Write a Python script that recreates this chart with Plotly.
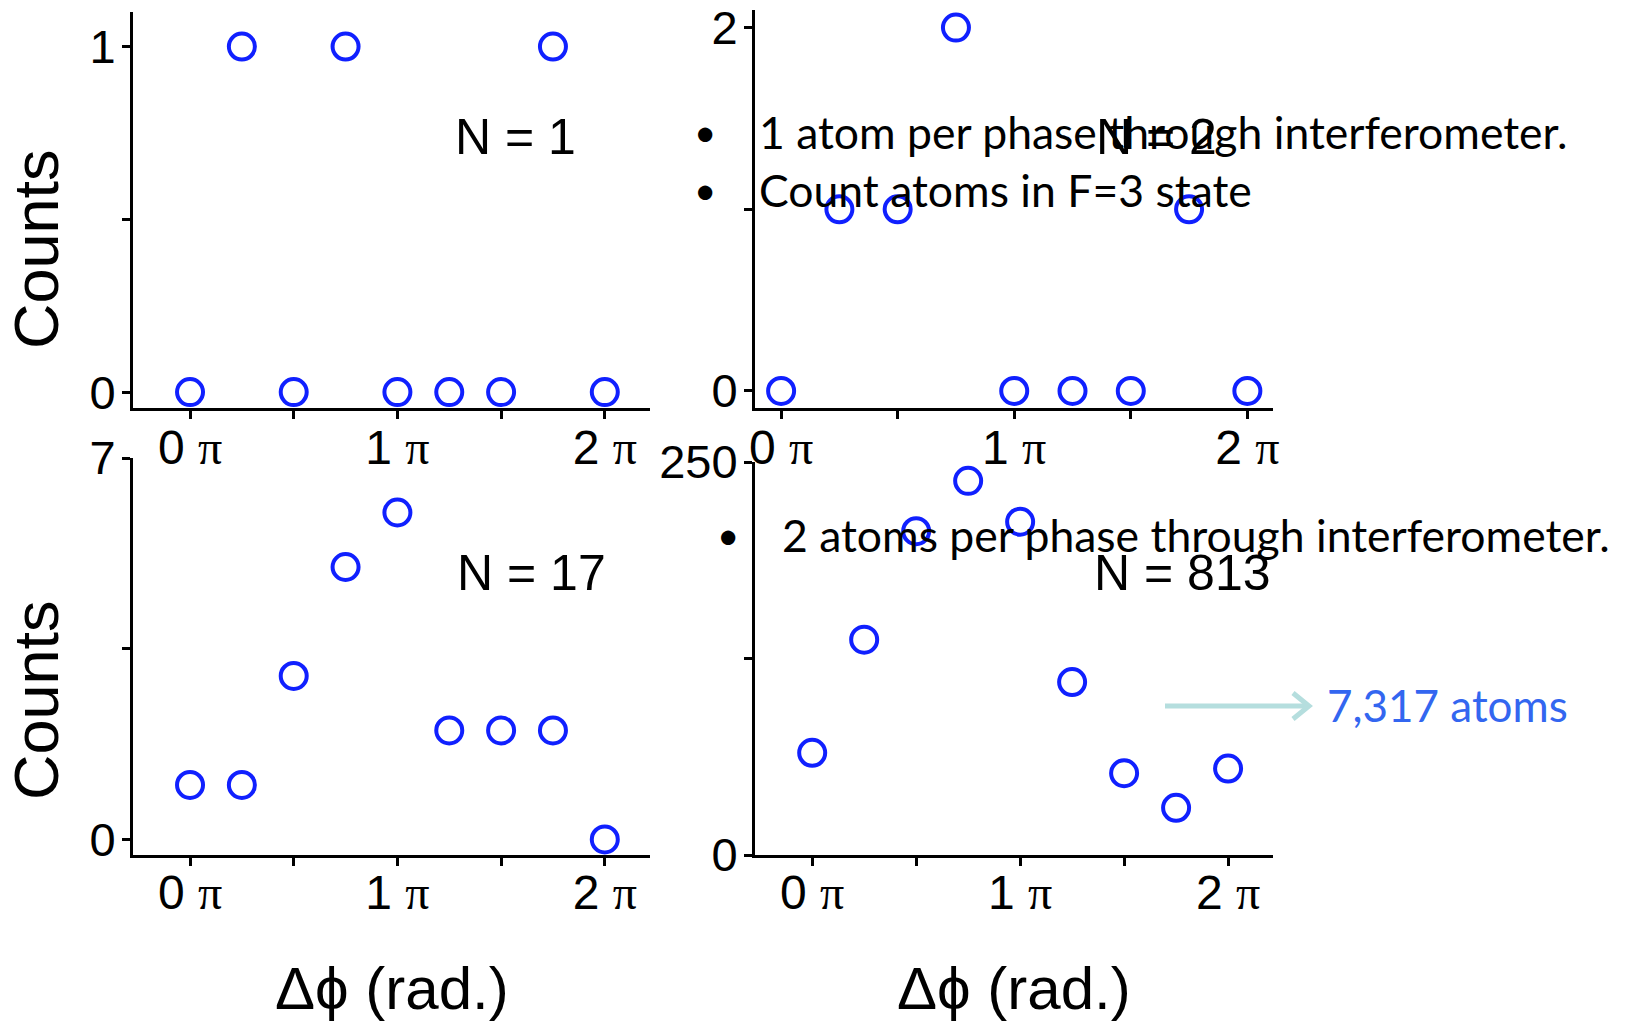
import plotly.graph_objects as go

W, H = 1626, 1023

# ---- data (phase in units of pi) ----
phase = [0, 0.25, 0.5, 0.75, 1.0, 1.25, 1.5, 1.75, 2.0]
counts_n1 = [0, 1, 0, 1, 0, 0, 0, 1, 0]
counts_n2 = [0, 1, 1, 2, 0, 0, 0, 1, 0]
counts_n17 = [1, 1, 3, 5, 6, 2, 2, 2, 0]
counts_n813 = [65, 137, 206, 238, 212, 110, 52, 30, 55]
panel_labels = ["N = 1", "N = 2", "N = 17", "N = 813"]

x_tick_vals = [0, 0.5, 1, 1.5, 2]
x_tick_nums = ["0", "", "1", "", "2"]
y_tick_vals = [[0, 0.5, 1], [0, 1, 2], [0, 3.5, 7], [0, 125, 250]]
y_tick_text = [["0", "", "1"], ["0", "", "2"], ["0", "", "7"], ["0", "", "250"]]

series = [counts_n1, counts_n2, counts_n17, counts_n813]

# ---- layout geometry (pixels) ----
boxes = [  # x0, x1, ytop, ybottom
    (133, 650, 12, 408),
    (755, 1273, 10, 408),
    (133, 650, 458, 855),
    (755, 1273, 462, 855),
]
x_ranges = [[-0.275, 2.218], [-0.112, 2.11], [-0.275, 2.218], [-0.275, 2.216]]
y_ranges = [[-0.046, 1.1], [-0.094, 2.097], [-0.285, 7.0], [0, 250]]
x_label_shift = [-13, -13, -15, -15]

BLUE = "#1020ff"
SANS = "Liberation Sans, Arial, sans-serif"
SERIF = "Liberation Serif, Times New Roman, serif"
CAL = "Lato, Carlito, sans-serif"

def px(x):
    return x / W

def py(y):
    return 1 - y / H

fig = go.Figure()
layout = dict(
    width=W, height=H,
    margin=dict(l=0, r=0, t=0, b=0, autoexpand=False),
    paper_bgcolor="white", plot_bgcolor="white",
    showlegend=False,
    font=dict(family=SANS, color="black"),
)

x_tick_text = [
    (f"{n} <span style='font-family:{SERIF}'>π</span>" if n else "") for n in x_tick_nums
]

for i, (vals, box) in enumerate(zip(series, boxes)):
    k = "" if i == 0 else str(i + 1)
    fig.add_trace(go.Scatter(
        x=phase, y=vals, mode="markers",
        xaxis="x" + k, yaxis="y" + k,
        marker=dict(symbol="circle-open", size=26, color=BLUE,
                    line=dict(width=4, color=BLUE)),
        cliponaxis=False,
    ))
    x0, x1, yt, yb = box
    layout["xaxis" + k] = dict(
        domain=[px(x0), px(x1)], anchor="y" + k, range=x_ranges[i], automargin=False,
        showgrid=False, zeroline=False, showline=True, linecolor="black", linewidth=3,
        ticks="outside", ticklen=8, tickwidth=2.5, tickcolor="black",
        tickmode="array", tickvals=x_tick_vals, ticktext=x_tick_text,
        tickfont=dict(family=SANS, size=48, color="black"),
        ticklabelstandoff=x_label_shift[i],
    )
    layout["yaxis" + k] = dict(
        domain=[py(yb), py(yt)], anchor="x" + k, range=y_ranges[i], automargin=False,
        showgrid=False, zeroline=False, showline=True, linecolor="black", linewidth=3,
        ticks="outside", ticklen=8, tickwidth=2.5, tickcolor="black",
        tickmode="array", tickvals=y_tick_vals[i], ticktext=y_tick_text[i],
        tickfont=dict(family=SANS, size=47, color="black"),
        ticklabelstandoff=-3,
    )

annotations = []
label_pos = [(515, 137), (1156, 137), (531, 573), (1182, 573)]
for lab, (ax, ay) in zip(panel_labels, label_pos):
    annotations.append(dict(text=lab, x=px(ax), y=py(ay), xref="paper", yref="paper",
                            showarrow=False, xanchor="center", yanchor="middle",
                            font=dict(family=SANS, size=50, color="black")))

for cy in (249, 700):
    annotations.append(dict(text="Counts", x=px(36), y=py(cy), xref="paper", yref="paper",
                            showarrow=False, textangle=-90, xanchor="center", yanchor="middle",
                            font=dict(family=SANS, size=63, color="black")))
for cx in (392, 1014):
    annotations.append(dict(text="Δϕ (rad.)", x=px(cx), y=py(988), xref="paper", yref="paper",
                            showarrow=False, xanchor="center", yanchor="middle",
                            font=dict(family=SANS, size=60, color="black")))

bullets = [
    (705, 757, 131, "1 atom per phase through interferometer.", 44.5),
    (705, 757, 189, "Count atoms in F=3 state", 44.5),
    (728, 780, 534, "2 atoms per phase through interferometer.", 44.5),
]
for bx, tx, by, txt, fs in bullets:
    annotations.append(dict(text="•", x=px(bx), y=py(by), xref="paper", yref="paper",
                            showarrow=False, xanchor="center", yanchor="middle",
                            font=dict(family=CAL, size=fs - 6, color="black")))
    annotations.append(dict(text=txt, x=px(tx), y=py(by), xref="paper", yref="paper",
                            showarrow=False, xanchor="left", yanchor="middle",
                            font=dict(family=CAL, size=fs, color="black")))

annotations.append(dict(text="7,317 atoms", x=px(1325), y=py(705), xref="paper", yref="paper",
                        showarrow=False, xanchor="left", yanchor="middle",
                        font=dict(family=CAL, size=44, color="#3366f0")))
layout["annotations"] = annotations

ARROW = "#b5dede"
layout["shapes"] = [
    dict(type="line", xref="paper", yref="paper", x0=px(1165), x1=px(1308), y0=py(706), y1=py(706),
         line=dict(color=ARROW, width=5)),
    dict(type="path", xref="paper", yref="paper",
         path=f"M {px(1293)},{py(693)} L {px(1309)},{py(706)} L {px(1293)},{py(719)}",
         line=dict(color=ARROW, width=5)),
]

fig.update_layout(**layout)
fig.write_html("out.html", config={"displayModeBar": False},
               post_script="document.body.style.margin='0';document.body.style.padding='0';")
